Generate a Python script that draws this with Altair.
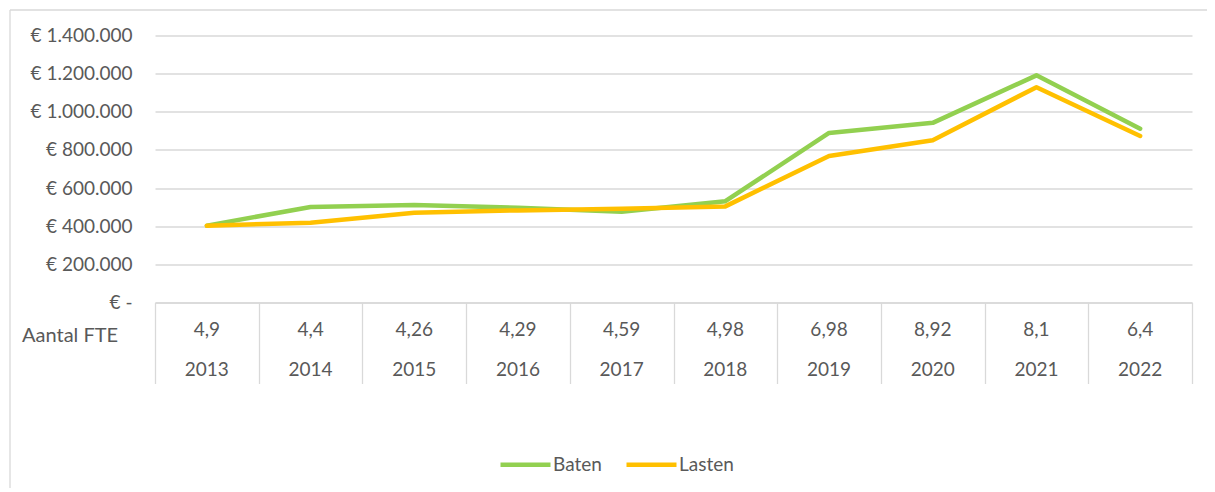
import altair as alt
import pandas as pd

years = ['2013', '2014', '2015', '2016', '2017', '2018', '2019', '2020', '2021', '2022']
fte = ['4,9', '4,4', '4,26', '4,29', '4,59', '4,98', '6,98', '8,92', '8,1', '6,4']
baten = [403000, 501000, 511000, 497000, 476000, 531000, 889000, 942000, 1191000, 911000]
lasten = [403000, 418000, 471000, 483000, 492000, 504000, 768000, 851000, 1129000, 873000]
series = ['Baten', 'Lasten']
colors = ['#92D050', '#FFC000']
y_ticks = [0, 200000, 400000, 600000, 800000, 1000000, 1200000, 1400000]

long = pd.DataFrame({
    'year': years * 2,
    'value': baten + lasten,
    'series': ['Baten'] * len(years) + ['Lasten'] * len(years),
})
table = pd.DataFrame({'year': years, 'fte': fte})
one = pd.DataFrame({'label': ['Aantal FTE']})

FONT = 'Lato'
GRAY = '#595959'
GRID = '#D9D9D9'
FS = 19

xscale = alt.Scale(type='band', domain=years, paddingInner=0, paddingOuter=0)
xaxis = alt.Axis(orient='bottom', domain=True, domainColor=GRID, domainWidth=1.3,
                 ticks=True, tickBand='extent', tickSize=81, tickColor=GRID, tickWidth=1.3,
                 labels=False, grid=False, title=None)
yaxis = alt.Axis(values=y_ticks, grid=True, gridColor=GRID, gridWidth=1.3,
                 domain=False, ticks=False, labelFont=FONT, labelFontSize=FS,
                 labelColor=GRAY, labelPadding=23, title=None,
                 labelExpr="datum.value == 0 ? '€ -\u00a0\u00a0\u00a0' : '€ ' + replace(replace(format(datum.value, ','), ',', '.'), ',', '.')")

lines = alt.Chart(long).mark_line(strokeWidth=4.5, strokeCap='round', strokeJoin='round').encode(
    x=alt.X('year:O', scale=xscale, axis=xaxis),
    y=alt.Y('value:Q', scale=alt.Scale(domain=[0, 1400000], nice=False), axis=yaxis),
    color=alt.Color('series:N', scale=alt.Scale(domain=series, range=colors),
                    legend=alt.Legend(orient='none', legendX=343, legendY=401.5,
                                      direction='horizontal', title=None,
                                      symbolType='stroke', symbolSize=2500,
                                      symbolStrokeWidth=4.5, labelFont=FONT,
                                      labelFontSize=FS, labelColor=GRAY,
                                      labelOffset=0, columnPadding=15)),
    order=alt.Order('series:N'),
)

fte_text = alt.Chart(table).mark_text(font=FONT, fontSize=FS, color=GRAY).encode(
    x=alt.X('year:O', scale=xscale),
    y=alt.value(294.5),
    text='fte:N',
)
year_text = alt.Chart(table).mark_text(font=FONT, fontSize=FS, color=GRAY).encode(
    x=alt.X('year:O', scale=xscale),
    y=alt.value(334.5),
    text='year:N',
)
row_label = alt.Chart(one).mark_text(font=FONT, fontSize=20, color=GRAY, align='left').encode(
    x=alt.value(-133),
    y=alt.value(300.5),
    text='label:N',
)
border_top = alt.Chart(one).mark_rule(color=GRID, strokeWidth=1.3).encode(
    x=alt.value(-145), x2=alt.value(1060), y=alt.value(-25.5),
)
border_left = alt.Chart(one).mark_rule(color=GRID, strokeWidth=1.3).encode(
    x=alt.value(-145), y=alt.value(-25.5), y2=alt.value(460),
)

chart = alt.layer(border_top, border_left, lines, fte_text, year_text, row_label).properties(
    width=1037, height=267,
    autosize=alt.AutoSizeParams(type='none'),
    padding={'left': 147, 'top': 27.5, 'right': 15, 'bottom': 185},
    background='white',
).configure_view(stroke=None)

chart.save('out.html', embed_options={'renderer': 'svg', 'actions': False})
